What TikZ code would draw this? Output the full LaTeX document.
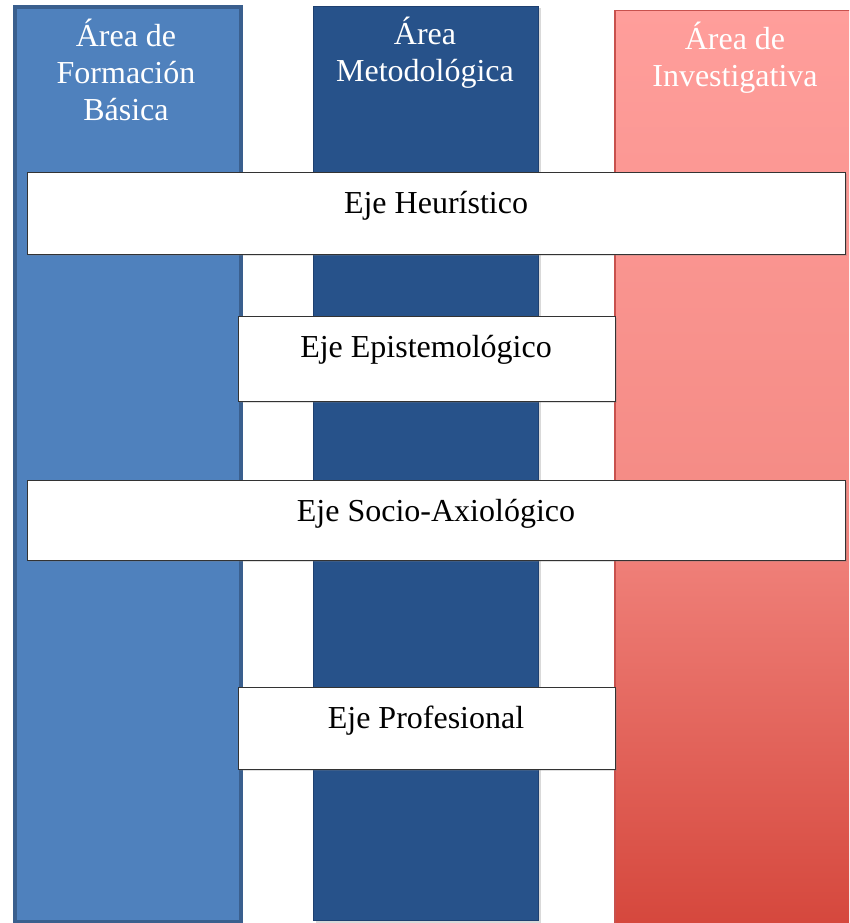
\documentclass[tikz,border=0pt]{standalone}
\usepackage{fontspec}
\setmainfont{Liberation Serif}
\usetikzlibrary{shadows}
\definecolor{basicfill}{HTML}{4F81BD}
\definecolor{basicline}{HTML}{3A5F8E}
\definecolor{metofill}{HTML}{27528A}
\definecolor{metoline}{HTML}{1E4070}
\definecolor{invtop}{HTML}{FF9E9B}
\definecolor{invmid}{HTML}{F58C86}
\definecolor{invbot}{HTML}{D4453A}
\definecolor{invline}{HTML}{C8514D}
\begin{document}
\begin{tikzpicture}[x=1pt,y=-1pt,
  colbox/.style={rectangle, anchor=north west, inner sep=0pt},
  hdr/.style={anchor=base, inner sep=0pt, text=white, font=\fontsize{32}{37}\selectfont},
  axisbox/.style={rectangle, anchor=north west, inner sep=0pt, fill=white, draw=black!80, line width=1.2pt,
    drop shadow={shadow xshift=1.5pt, shadow yshift=-1.5pt, opacity=0.25}},
  axistext/.style={anchor=base, inner sep=0pt, text=black, font=\fontsize{32}{37}\selectfont}]
\useasboundingbox (0,0) rectangle (849,923);
\clip (0,0) rectangle (849,923);
% columns
\node[colbox, fill=basicfill, draw=basicline, line width=4pt, minimum width=226pt, minimum height=915pt] (basica) at (13,5) {};
\node[colbox, fill=metofill, draw=metoline, line width=1pt, minimum width=225pt, minimum height=914pt,
  drop shadow={shadow xshift=2pt, shadow yshift=-2pt, opacity=0.3}] (meto) at (313,6) {};
\node[colbox, top color=invtop, bottom color=invbot, middle color=invmid, draw=invline, line width=1.5pt, minimum width=250pt, minimum height=930pt] (inv) at (614,10) {};
% headers
\node[hdr] (b1) at (126,47) {Área de};
\node[hdr] (b2) at (126,84) {Formación};
\node[hdr] (b3) at (126,121) {Básica};
\node[hdr] (m1) at (425,45) {Área};
\node[hdr] (m2) at (425,82) {Metodológica};
\node[hdr] (i1) at (735,50) {Área de};
\node[hdr] (i2) at (735,87) {Investigativa};
% axes
\node[axisbox, minimum width=818pt, minimum height=82pt] (heur) at (27,172) {};
\node[axistext] (heurt) at (436,213) {Eje Heurístico};
\node[axisbox, minimum width=377pt, minimum height=85pt] (epis) at (238,316) {};
\node[axistext] (epist) at (426,357) {Eje Epistemológico};
\node[axisbox, minimum width=818pt, minimum height=80pt] (socio) at (27,480) {};
\node[axistext] (sociot) at (436,521) {Eje Socio-Axiológico};
\node[axisbox, minimum width=377pt, minimum height=82pt] (prof) at (238,687) {};
\node[axistext] (proft) at (426,728) {Eje Profesional};
\end{tikzpicture}
\end{document}
